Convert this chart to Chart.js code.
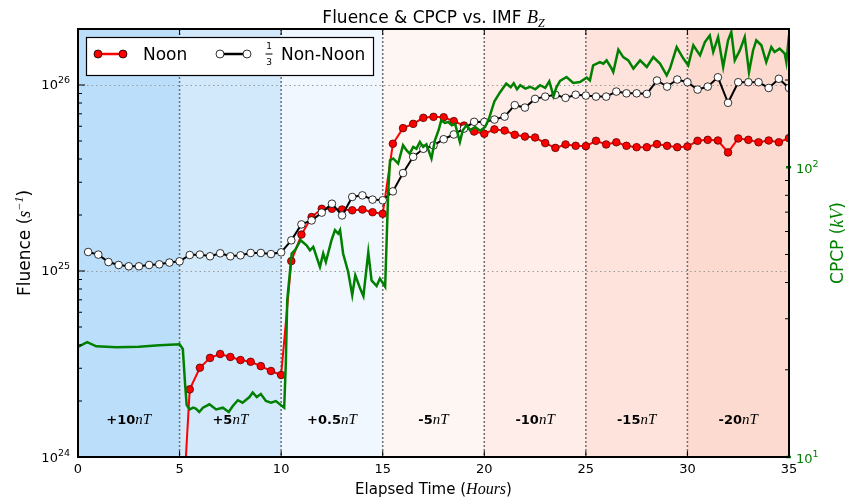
<!DOCTYPE html>
<html>
<head>
<meta charset="utf-8">
<script src="https://cdn.jsdelivr.net/npm/chart.js@4"></script>
<style>
  html, body { margin: 0; padding: 0; background: #fff; }
</style>
</head>
<body>
<canvas id="chart" width="847" height="501"></canvas>
<script>
// --- data ---
const noonHours = [5, 5.5, 6, 6.5, 7, 7.5, 8, 8.5, 9, 9.5, 10, 10.5, 11, 11.5, 12, 12.5, 13, 13.5, 14, 14.5,
  15, 15.5, 16, 16.5, 17, 17.5, 18, 18.5, 19, 19.5, 20, 20.5, 21, 21.5, 22, 22.5, 23, 23.5, 24, 24.5,
  25, 25.5, 26, 26.5, 27, 27.5, 28, 28.5, 29, 29.5, 30, 30.5, 31, 31.5, 32, 32.5, 33, 33.5, 34, 34.5, 35];
const noonFluence = [2.5e23, 2.31e24, 3.02e24, 3.41e24, 3.58e24, 3.45e24, 3.32e24, 3.25e24, 3.08e24, 2.90e24,
  2.76e24, 1.13e25, 1.57e25, 1.95e25, 2.16e25, 2.16e25, 2.14e25, 2.12e25, 2.14e25, 2.07e25,
  2.03e25, 4.83e25, 5.86e25, 6.18e25, 6.66e25, 6.74e25, 6.71e25, 6.39e25, 6.05e25, 5.62e25,
  5.47e25, 5.77e25, 5.69e25, 5.40e25, 5.28e25, 5.22e25, 4.87e25, 4.59e25, 4.79e25, 4.71e25,
  4.69e25, 5.01e25, 4.79e25, 4.92e25, 4.71e25, 4.63e25, 4.63e25, 4.81e25, 4.71e25, 4.63e25,
  4.67e25, 5.01e25, 5.07e25, 5.03e25, 4.34e25, 5.16e25, 5.07e25, 4.92e25, 5.03e25, 4.92e25, 5.18e25];

const nonNoonHours = [0.5, 1, 1.5, 2, 2.5, 3, 3.5, 4, 4.5, 5, 5.5, 6, 6.5, 7, 7.5, 8, 8.5, 9, 9.5, 10,
  10.5, 11, 11.5, 12, 12.5, 13, 13.5, 14, 14.5, 15, 15.5, 16, 16.5, 17, 17.5, 18, 18.5, 19, 19.5, 20,
  20.5, 21, 21.5, 22, 22.5, 23, 23.5, 24, 24.5, 25, 25.5, 26, 26.5, 27, 27.5, 28, 28.5, 29, 29.5, 30,
  30.5, 31, 31.5, 32, 32.5, 33, 33.5, 34, 34.5, 35];
// already one third of the non-noon fluence
const nonNoonFluence = [1.265e25, 1.225e25, 1.117e25, 1.077e25, 1.06e25, 1.06e25, 1.077e25, 1.086e25, 1.11e25, 1.127e25,
  1.219e25, 1.225e25, 1.2e25, 1.245e25, 1.2e25, 1.214e25, 1.25e25, 1.25e25, 1.233e25, 1.26e25,
  1.462e25, 1.78e25, 1.87e25, 2.06e25, 2.30e25, 1.99e25, 2.50e25, 2.55e25, 2.42e25, 2.40e25,
  2.68e25, 3.36e25, 4.11e25, 4.54e25, 4.73e25, 5.11e25, 5.42e25, 5.83e25, 6.34e25, 6.33e25,
  6.52e25, 6.76e25, 7.79e25, 7.56e25, 8.42e25, 8.66e25, 8.85e25, 8.53e25, 8.87e25, 8.77e25,
  8.66e25, 8.66e25, 9.22e25, 9.02e25, 9.02e25, 8.96e25, 1.057e26, 9.80e25, 1.07e26, 1.035e26,
  9.45e25, 9.80e25, 1.10e26, 8.02e25, 1.035e26, 1.035e26, 1.035e26, 9.64e25, 1.08e26, 9.64e25];

const cpcpHours = [0, 0.45, 0.9, 1.9, 3, 4, 5, 5.16, 5.27, 5.35, 5.5, 5.67, 5.8, 5.97, 6.15, 6.47, 6.8, 7.13, 7.42, 7.62,
  7.87, 8.1, 8.44, 8.6, 8.8, 9, 9.25, 9.5, 9.74, 10.15, 10.23, 10.3, 10.52, 10.68, 10.96, 11.25, 11.42, 11.58, 11.91, 12.07,
  12.2, 12.48, 12.65, 12.81, 12.9, 13.05, 13.3, 13.5, 13.65, 13.88, 14.05, 14.29, 14.45, 14.7, 14.86, 15.12, 15.27, 15.36, 15.52, 15.76,
  16, 16.17, 16.33, 16.5, 16.66, 16.83, 16.99, 17.15, 17.4, 17.57, 17.75, 17.88, 18.06, 18.23, 18.4, 18.56, 18.8, 18.94, 19.13, 19.3,
  19.55, 19.8, 20.04, 20.25, 20.5, 20.78, 21.08, 21.3, 21.45, 21.61, 21.77, 22.02, 22.26, 22.51, 22.75, 23, 23.2, 23.41, 23.55, 23.73,
  24.05, 24.38, 24.71, 25.04, 25.2, 25.36, 25.69, 25.86, 26.02, 26.27, 26.35, 26.6, 26.84, 27.09, 27.34, 27.67, 28, 28.32, 28.65, 28.98,
  29.14, 29.47, 29.8, 30.04, 30.29, 30.62, 30.86, 31.1, 31.27, 31.51, 31.76, 32, 32.16, 32.33, 32.58, 32.82, 33.03, 33.23, 33.39, 33.64,
  33.88, 34.13, 34.29, 34.54, 34.79, 34.87, 35];
const cpcpValues = [24.0, 24.9, 24.1, 23.9, 24.0, 24.3, 24.5, 23.6, 17.9, 15.1, 14.6, 14.8, 14.7, 14.3, 14.8, 15.2, 14.6, 14.8, 14.3, 15.0,
  15.7, 15.4, 16.1, 16.7, 16.1, 16.5, 15.6, 15.4, 15.6, 14.8, 21.1, 34.8, 50.4, 51.7, 56.0, 53.8, 51.7, 53.1, 45.3, 50.4,
  47.1, 56.0, 60.7, 59.0, 60.7, 50.4, 43.5, 36.2, 42.4, 38.3, 35.9, 50.9, 40.7, 38.9, 41.3, 38.7, 82.2, 105.7, 107.2, 103.0,
  119.1, 114.5, 111.5, 117.5, 115.9, 122.3, 117.5, 120.0, 107.2, 123.9, 134.2, 145.2, 142.3, 143.3, 139.6, 141.5, 122.3, 134.2, 139.6, 134.2,
  137.7, 133.6, 137.7, 148.6, 169.0, 181.6, 194.5, 188.8, 195.0, 185.8, 191.9, 186.8, 189.6, 185.8, 191.9, 188.0, 198.0, 175.8, 188.8, 198.6,
  204.8, 195.3, 196.8, 203.9, 199.5, 224.8, 230.7, 227.8, 233.8, 218.9, 213.1, 254.6, 240.0, 233.8, 218.9, 233.8, 221.8, 240.0, 227.8, 207.5,
  218.9, 260.0, 237.1, 224.8, 263.6, 243.3, 270.4, 285.1, 249.9, 281.3, 221.8, 274.2, 293.0, 233.8, 253.0, 281.3, 213.1, 253.0, 274.2, 263.6,
  230.7, 260.0, 249.9, 256.6, 246.6, 230.7, 285.1];

const bzEdges = [0, 5, 10, 15, 20, 25, 30, 35];
const bzLabels = ["+10", "+5", "+0.5", "-5", "-10", "-15", "-20"];
const xTicks = [0, 5, 10, 15, 20, 25, 30, 35];
const fluenceTicks = [1e24, 1e25, 1e26];
const cpcpTicks = [10, 100];

// --- styles ---
const bandColors = ["#bbdffb", "#d1e9fb", "#f0f7fe", "#fef6f3", "#feede8", "#fde3dc", "#fddad0"];
const GREEN = "#008000";
const SANS = "'DejaVu Sans'";
const MATH = "'Liberation Serif'";

// draw a run of differently styled pieces of text
function richText(ctx, parts, x, y, align) {
  let w = 0;
  parts.forEach(p => { ctx.font = p.f; w += ctx.measureText(p.t).width; });
  let cx = align === "center" ? x - w / 2 : align === "right" ? x - w : x;
  ctx.textAlign = "left";
  ctx.textBaseline = "alphabetic";
  parts.forEach(p => {
    ctx.font = p.f;
    ctx.fillText(p.t, cx, y + (p.dy || 0));
    cx += ctx.measureText(p.t).width;
  });
}

function powParts(v) {
  const e = Math.round(Math.log10(v));
  return [{ t: "10", f: "13px " + SANS }, { t: String(e), f: "9.5px " + SANS, dy: -6 }];
}

function seg(ctx, x0, y0, x1, y1) {
  ctx.beginPath(); ctx.moveTo(x0, y0); ctx.lineTo(x1, y1); ctx.stroke();
}

function dot(ctx, x, y, fill) {
  ctx.beginPath(); ctx.arc(x, y, 4, 0, Math.PI * 2);
  ctx.fillStyle = fill; ctx.fill();
  ctx.lineWidth = 0.8; ctx.strokeStyle = "#000"; ctx.stroke();
}

const decor = {
  id: "decor",
  beforeDatasetsDraw(chart) {
    const { ctx, chartArea: a, scales: { x, y } } = chart;
    ctx.save();
    bzLabels.forEach((lab, i) => {
      const x0 = x.getPixelForValue(bzEdges[i]);
      const x1 = x.getPixelForValue(bzEdges[i + 1]);
      ctx.fillStyle = bandColors[i];
      ctx.fillRect(x0, a.top, x1 - x0, a.bottom - a.top);
    });
    ctx.strokeStyle = "#9a9a9a"; ctx.lineWidth = 1; ctx.setLineDash([1.5, 3]);
    fluenceTicks.slice(1).forEach(v => {
      const py = Math.round(y.getPixelForValue(v)) + 0.5;
      seg(ctx, a.left, py, a.right, py);
    });
    ctx.strokeStyle = "#6e6e6e"; ctx.lineWidth = 1.5; ctx.setLineDash([2, 2]);
    bzEdges.slice(1, -1).forEach(v => {
      const px = x.getPixelForValue(v);
      seg(ctx, px, a.top, px, a.bottom);
    });
    ctx.setLineDash([]);
    ctx.fillStyle = "#000";
    bzLabels.forEach((lab, i) => {
      const cx = x.getPixelForValue((bzEdges[i] + bzEdges[i + 1]) / 2);
      richText(ctx, [{ t: lab, f: "bold 13px " + SANS }, { t: "nT", f: "italic 15px " + MATH }], cx, a.bottom - 33, "center");
    });
    ctx.restore();
  },
  afterDatasetsDraw(chart) {
    const { ctx, chartArea: a, scales: { x, y, y2 } } = chart;
    ctx.save();
    ctx.strokeStyle = "#000";
    ctx.lineWidth = 1;
    // inward ticks, left axis
    for (let d = 24; d <= 26; d++) {
      for (let k = 1; k <= 9; k++) {
        const v = k * Math.pow(10, d);
        if (v > y.max) break;
        const py = y.getPixelForValue(v);
        seg(ctx, a.left, py, a.left + (k === 1 ? 7 : 4), py);
      }
    }
    // right axis
    for (let d = 1; d <= 2; d++) {
      for (let k = 2; k <= 9; k++) {
        const v = k * Math.pow(10, d);
        if (v > y2.max) break;
        const py = y2.getPixelForValue(v);
        seg(ctx, a.right, py, a.right - 4, py);
      }
    }
    ctx.strokeStyle = GREEN; ctx.lineWidth = 2.5;
    cpcpTicks.forEach(v => {
      const py = y2.getPixelForValue(v);
      seg(ctx, a.right - 3, py, a.right + 2, py);
    });
    ctx.strokeStyle = "#000"; ctx.lineWidth = 1;
    xTicks.slice(1, -1).forEach(v => {
      const px = x.getPixelForValue(v);
      seg(ctx, px, a.bottom, px, a.bottom - 6);
      seg(ctx, px, a.top, px, a.top + 6);
    });
    ctx.lineWidth = 2;
    ctx.strokeRect(a.left, a.top, a.right - a.left, a.bottom - a.top);
    ctx.restore();
  },
  afterDraw(chart) {
    const { ctx, chartArea: a, scales: { y, y2 } } = chart;
    const midX = (a.left + a.right) / 2;
    const midY = (a.top + a.bottom) / 2;
    ctx.save();
    // tick labels with raised exponents
    ctx.fillStyle = "#000";
    fluenceTicks.forEach(v => richText(ctx, powParts(v), a.left - 8, y.getPixelForValue(v) + 4.5, "right"));
    ctx.fillStyle = GREEN;
    cpcpTicks.forEach(v => richText(ctx, powParts(v), a.right + 7, y2.getPixelForValue(v) + 6, "left"));

    ctx.fillStyle = "#000";
    richText(ctx, [
      { t: "Fluence & CPCP vs. IMF ", f: "17px " + SANS },
      { t: "B", f: "italic 18px " + MATH },
      { t: "Z", f: "italic 12px " + MATH, dy: 4 }
    ], midX, 22.5, "center");
    richText(ctx, [
      { t: "Elapsed Time (", f: "15px " + SANS },
      { t: "Hours", f: "italic 16px " + MATH },
      { t: ")", f: "15px " + SANS }
    ], midX, 494, "center");

    ctx.save();
    ctx.translate(30, midY);
    ctx.rotate(-Math.PI / 2);
    richText(ctx, [
      { t: "Fluence (", f: "17px " + SANS },
      { t: "s", f: "italic 18px " + MATH },
      { t: "−1", f: "italic 12px " + MATH, dy: -7 },
      { t: ")", f: "17px " + SANS }
    ], 0, 0, "center");
    ctx.restore();

    ctx.save();
    ctx.fillStyle = GREEN;
    ctx.translate(843, midY);
    ctx.rotate(-Math.PI / 2);
    richText(ctx, [
      { t: "CPCP (", f: "17px " + SANS },
      { t: "kV", f: "italic 18px " + MATH },
      { t: ")", f: "17px " + SANS }
    ], 0, 0, "center");
    ctx.restore();

    // legend
    const lx = a.left + 8, ly = a.top + 8;
    ctx.fillStyle = "#fff";
    ctx.fillRect(lx, ly, 287, 38);
    ctx.strokeStyle = "#000"; ctx.lineWidth = 1.2;
    ctx.strokeRect(lx + 0.5, ly + 0.5, 287, 38);
    const ry = ly + 17;
    ctx.lineWidth = 2.5;
    ctx.strokeStyle = "#f00";
    seg(ctx, lx + 12, ry, lx + 37, ry);
    dot(ctx, lx + 12, ry, "#f00");
    dot(ctx, lx + 37, ry, "#f00");
    ctx.fillStyle = "#000";
    richText(ctx, [{ t: "Noon", f: "17px " + SANS }], lx + 57, ly + 23, "left");
    ctx.lineWidth = 2.5;
    ctx.strokeStyle = "#000";
    seg(ctx, lx + 134, ry, lx + 161, ry);
    dot(ctx, lx + 134, ry, "#fff");
    dot(ctx, lx + 161, ry, "#fff");
    ctx.fillStyle = "#000";
    ctx.textAlign = "center";
    ctx.font = "9px " + SANS;
    ctx.fillText("1", lx + 183, ly + 12);
    ctx.fillText("3", lx + 183, ly + 28);
    ctx.fillRect(lx + 179.5, ry - 0.5, 7, 1);
    richText(ctx, [{ t: "Non-Noon", f: "17px " + SANS }], lx + 195, ly + 23, "left");
    ctx.restore();
  }
};

const ctx = document.getElementById("chart").getContext("2d");

const chart = new Chart(ctx, {
  type: "line",
  data: {
    datasets: [
      {
        label: "CPCP",
        data: cpcpHours.map((h, i) => ({ x: h, y: cpcpValues[i] })),
        yAxisID: "y2",
        borderColor: GREEN,
        borderWidth: 2.5,
        pointRadius: 0,
        order: 0,
      },
      {
        label: "1/3 Non-Noon",
        data: nonNoonHours.map((h, i) => ({ x: h, y: nonNoonFluence[i] })),
        yAxisID: "y",
        borderColor: "#000",
        borderWidth: 2,
        pointRadius: 3.8,
        pointBackgroundColor: "#fff",
        pointBorderColor: "#000",
        pointBorderWidth: 0.8,
        order: 1,
      },
      {
        label: "Noon",
        data: noonHours.map((h, i) => ({ x: h, y: noonFluence[i] })),
        yAxisID: "y",
        borderColor: "#f00",
        borderWidth: 2,
        pointRadius: 3.8,
        pointBackgroundColor: "#f00",
        pointBorderColor: "#500",
        pointBorderWidth: 0.8,
        order: 2,
      },
    ],
  },
  options: {
    responsive: false,
    animation: false,
    layout: { padding: { left: 0, right: 0, top: 29, bottom: 0 } },
    plugins: {
      legend: { display: false },
      tooltip: { enabled: false },
    },
    scales: {
      x: {
        type: "linear",
        min: 0,
        max: 35,
        afterBuildTicks: s => { s.ticks = xTicks.map(v => ({ value: v })); },
        afterFit: s => { s.height = 44; },
        grid: { display: false, drawTicks: false },
        border: { display: false },
        ticks: { color: "#000", font: { family: "DejaVu Sans", size: 13 }, padding: 5, maxRotation: 0 },
      },
      y: {
        type: "logarithmic",
        position: "left",
        min: 1e24,
        max: 2e26,
        afterBuildTicks: s => { s.ticks = fluenceTicks.map(v => ({ value: v })); },
        afterFit: s => { s.width = 78; },
        grid: { display: false, drawTicks: false },
        border: { display: false },
        ticks: { display: false },
      },
      y2: {
        type: "logarithmic",
        position: "right",
        min: 10,
        max: 300,
        afterBuildTicks: s => { s.ticks = cpcpTicks.map(v => ({ value: v })); },
        afterFit: s => { s.width = 58; },
        grid: { display: false, drawTicks: false },
        border: { display: false },
        ticks: { display: false },
      },
    },
  },
  plugins: [decor],
});
</script>
</body>
</html>
